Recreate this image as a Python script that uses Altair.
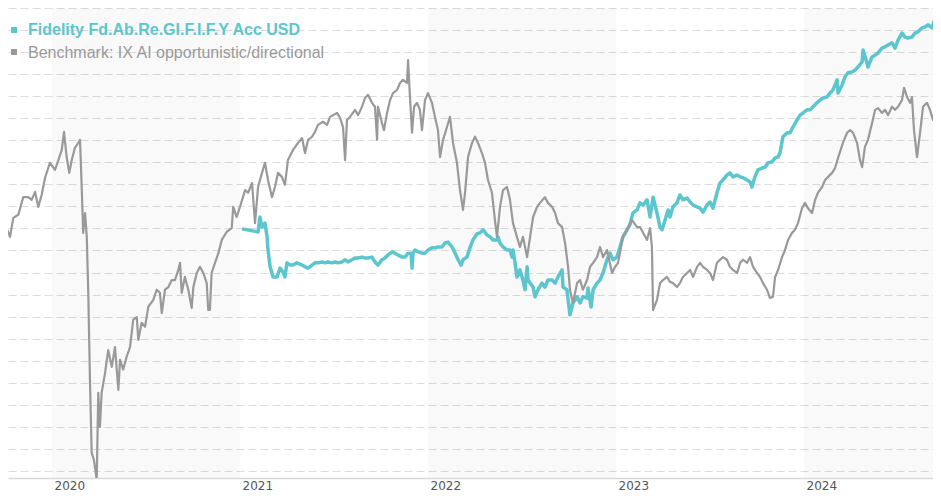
import altair as alt
import pandas as pd

# ---- data (time in fractional years, value = index) ----
benchmark_points = [
    (2019.762, 99.7), (2019.777, 98.1), (2019.794, 102.4), (2019.821, 103.1), (2019.847, 107.1),
    (2019.874, 107.1), (2019.892, 106.5), (2019.910, 108.3), (2019.927, 104.9), (2019.945, 107.6),
    (2019.963, 111.5), (2019.989, 114.9), (2020.016, 113.3), (2020.034, 115.5), (2020.052, 117.8),
    (2020.064, 121.9), (2020.078, 116.2), (2020.092, 112.6), (2020.105, 115.5), (2020.122, 118.3),
    (2020.140, 119.4), (2020.149, 120.1), (2020.158, 109.4), (2020.166, 99.0), (2020.176, 103.5),
    (2020.185, 98.1), (2020.193, 85.4), (2020.202, 65.6), (2020.211, 49.1), (2020.223, 47.5),
    (2020.238, 43.0), (2020.246, 62.7), (2020.255, 55.0), (2020.264, 62.7), (2020.282, 67.2),
    (2020.299, 72.4), (2020.318, 68.6), (2020.335, 73.1), (2020.353, 63.4), (2020.362, 70.2),
    (2020.379, 68.0), (2020.397, 70.9), (2020.415, 73.1), (2020.432, 79.3), (2020.451, 79.9),
    (2020.459, 74.7), (2020.477, 78.6), (2020.495, 77.7), (2020.512, 82.2), (2020.539, 83.8),
    (2020.557, 86.1), (2020.574, 85.4), (2020.584, 80.8), (2020.601, 86.1), (2020.619, 86.7),
    (2020.637, 88.3), (2020.654, 88.3), (2020.672, 90.6), (2020.681, 92.2), (2020.690, 85.4),
    (2020.707, 89.0), (2020.725, 86.1), (2020.743, 82.0), (2020.752, 86.7), (2020.770, 89.9),
    (2020.787, 91.3), (2020.805, 89.9), (2020.823, 87.6), (2020.831, 81.5), (2020.840, 81.5),
    (2020.849, 89.9), (2020.867, 92.2), (2020.885, 94.4), (2020.903, 97.4), (2020.929, 99.2),
    (2020.956, 100.1), (2020.964, 104.9), (2020.982, 102.6), (2021.000, 104.9), (2021.027, 108.7),
    (2021.043, 108.1), (2021.064, 110.3), (2021.080, 101.2), (2021.096, 109.4), (2021.117, 112.6),
    (2021.133, 114.9), (2021.149, 111.0), (2021.170, 107.1), (2021.186, 109.4), (2021.202, 112.6),
    (2021.223, 111.7), (2021.239, 109.9), (2021.255, 115.5), (2021.282, 117.8), (2021.309, 119.4),
    (2021.330, 120.5), (2021.346, 117.1), (2021.362, 120.1), (2021.383, 120.8), (2021.399, 121.9),
    (2021.415, 123.5), (2021.441, 124.2), (2021.463, 123.5), (2021.479, 125.3), (2021.495, 125.7),
    (2021.516, 126.2), (2021.532, 125.1), (2021.548, 123.0), (2021.559, 115.5), (2021.569, 124.6),
    (2021.585, 125.3), (2021.612, 126.9), (2021.628, 125.7), (2021.649, 127.6), (2021.665, 129.6),
    (2021.681, 130.3), (2021.702, 128.5), (2021.718, 127.6), (2021.729, 120.1), (2021.734, 127.6),
    (2021.755, 123.9), (2021.766, 122.3), (2021.782, 126.2), (2021.798, 129.1), (2021.814, 130.7),
    (2021.835, 131.4), (2021.851, 133.0), (2021.867, 133.7), (2021.888, 133.0), (2021.894, 138.2),
    (2021.904, 129.8), (2021.915, 121.7), (2021.926, 127.6), (2021.941, 128.5), (2021.957, 126.9),
    (2021.968, 122.3), (2021.984, 129.1), (2022.000, 130.7), (2022.021, 128.5), (2022.037, 125.3),
    (2022.053, 122.3), (2022.064, 116.2), (2022.080, 120.1), (2022.101, 123.0), (2022.117, 125.3),
    (2022.133, 119.4), (2022.154, 114.9), (2022.170, 108.7), (2022.186, 104.2), (2022.197, 108.1),
    (2022.213, 116.2), (2022.234, 119.4), (2022.250, 120.8), (2022.266, 119.4), (2022.287, 117.1),
    (2022.303, 114.9), (2022.319, 111.0), (2022.340, 108.1), (2022.356, 101.9), (2022.367, 98.1),
    (2022.383, 104.9), (2022.399, 108.7), (2022.420, 109.4), (2022.436, 106.5), (2022.452, 101.2),
    (2022.473, 98.1), (2022.489, 95.8), (2022.505, 98.1), (2022.527, 93.5), (2022.543, 98.1),
    (2022.559, 102.6), (2022.580, 104.9), (2022.596, 105.8), (2022.622, 107.1), (2022.638, 105.8),
    (2022.660, 104.9), (2022.676, 103.5), (2022.691, 101.2), (2022.713, 100.3), (2022.729, 96.7),
    (2022.745, 91.3), (2022.755, 86.1), (2022.771, 83.1), (2022.793, 87.6), (2022.809, 88.3),
    (2022.824, 86.1), (2022.846, 88.3), (2022.862, 91.3), (2022.878, 92.2), (2022.899, 93.5),
    (2022.915, 95.8), (2022.931, 93.5), (2022.952, 95.1), (2022.979, 89.9), (2022.995, 91.3),
    (2023.011, 92.2), (2023.037, 98.1), (2023.064, 100.3), (2023.085, 101.9), (2023.112, 100.3),
    (2023.128, 100.3), (2023.144, 99.0), (2023.165, 97.4), (2023.181, 100.1), (2023.191, 95.8),
    (2023.197, 81.5), (2023.218, 83.8), (2023.234, 87.6), (2023.250, 88.3), (2023.271, 89.0),
    (2023.287, 87.9), (2023.303, 87.6), (2023.324, 86.7), (2023.340, 87.6), (2023.356, 89.0),
    (2023.378, 89.9), (2023.394, 90.6), (2023.410, 89.0), (2023.431, 91.3), (2023.447, 92.2),
    (2023.463, 91.3), (2023.484, 90.6), (2023.500, 89.9), (2023.516, 88.3), (2023.537, 92.2),
    (2023.553, 92.9), (2023.569, 93.5), (2023.590, 92.9), (2023.606, 91.3), (2023.622, 90.6),
    (2023.644, 89.9), (2023.660, 92.2), (2023.676, 92.9), (2023.697, 92.2), (2023.713, 93.5),
    (2023.729, 91.3), (2023.750, 89.9), (2023.766, 89.0), (2023.782, 87.6), (2023.803, 86.1),
    (2023.819, 84.2), (2023.835, 84.5), (2023.846, 89.0), (2023.862, 90.6), (2023.883, 93.5),
    (2023.899, 95.1), (2023.915, 97.4), (2023.936, 99.0), (2023.952, 99.7), (2023.968, 101.2),
    (2023.989, 104.6), (2024.005, 105.8), (2024.021, 104.6), (2024.043, 103.5), (2024.059, 106.5),
    (2024.074, 108.1), (2024.096, 109.4), (2024.112, 111.0), (2024.128, 111.7), (2024.149, 112.6),
    (2024.165, 113.7), (2024.181, 116.0), (2024.207, 119.4), (2024.229, 121.7), (2024.245, 122.3),
    (2024.261, 121.7), (2024.282, 119.4), (2024.298, 115.5), (2024.309, 113.9), (2024.324, 118.5),
    (2024.340, 120.1), (2024.362, 123.9), (2024.378, 126.9), (2024.394, 127.3), (2024.415, 126.2),
    (2024.431, 126.9), (2024.447, 125.7), (2024.468, 127.6), (2024.484, 126.9), (2024.500, 127.6),
    (2024.521, 129.1), (2024.532, 131.9), (2024.548, 129.8), (2024.564, 128.5), (2024.574, 129.8),
    (2024.585, 122.3), (2024.601, 116.2), (2024.617, 121.7), (2024.633, 127.6), (2024.654, 128.5),
    (2024.670, 126.9), (2024.686, 124.6), (2024.707, 129.1), (2024.723, 134.4),
]

fund_points = [
    (2021.011, 99.9), (2021.096, 99.2), (2021.106, 102.6), (2021.117, 100.3), (2021.133, 101.2),
    (2021.144, 98.1), (2021.149, 95.1), (2021.160, 91.3), (2021.176, 89.0), (2021.197, 89.0),
    (2021.213, 91.0), (2021.229, 90.1), (2021.239, 89.0), (2021.250, 92.2), (2021.266, 91.7),
    (2021.282, 91.7), (2021.303, 92.2), (2021.330, 91.7), (2021.346, 91.3), (2021.362, 91.0),
    (2021.383, 91.7), (2021.399, 92.2), (2021.415, 92.2), (2021.436, 92.4), (2021.452, 92.2),
    (2021.468, 92.4), (2021.489, 92.2), (2021.505, 92.4), (2021.521, 92.2), (2021.543, 92.4),
    (2021.559, 92.9), (2021.574, 92.4), (2021.596, 92.9), (2021.612, 93.3), (2021.628, 93.3),
    (2021.649, 93.5), (2021.665, 93.3), (2021.681, 93.3), (2021.702, 93.5), (2021.718, 92.4),
    (2021.734, 91.7), (2021.755, 92.9), (2021.771, 93.3), (2021.787, 94.0), (2021.809, 94.7),
    (2021.824, 94.4), (2021.840, 94.0), (2021.862, 93.5), (2021.878, 93.5), (2021.894, 94.4),
    (2021.910, 94.4), (2021.915, 91.0), (2021.920, 94.4), (2021.931, 95.1), (2021.947, 94.7),
    (2021.968, 94.4), (2021.984, 94.4), (2022.000, 95.1), (2022.021, 95.6), (2022.037, 95.6),
    (2022.053, 95.8), (2022.074, 95.8), (2022.090, 96.7), (2022.106, 96.9), (2022.128, 95.8),
    (2022.144, 94.4), (2022.160, 92.9), (2022.176, 91.7), (2022.186, 92.9), (2022.207, 93.5),
    (2022.223, 95.6), (2022.239, 97.4), (2022.261, 98.8), (2022.277, 99.0), (2022.293, 99.7),
    (2022.314, 98.5), (2022.330, 98.1), (2022.346, 97.4), (2022.367, 97.4), (2022.372, 98.1),
    (2022.383, 96.7), (2022.399, 95.8), (2022.420, 95.1), (2022.436, 95.1), (2022.447, 93.5),
    (2022.452, 95.1), (2022.463, 92.2), (2022.473, 89.0), (2022.489, 90.6), (2022.505, 88.3),
    (2022.516, 86.1), (2022.527, 91.3), (2022.532, 88.3), (2022.543, 87.6), (2022.559, 86.7),
    (2022.569, 84.5), (2022.585, 86.1), (2022.606, 87.6), (2022.622, 86.7), (2022.638, 88.3),
    (2022.660, 88.3), (2022.676, 87.6), (2022.691, 89.0), (2022.713, 90.6), (2022.718, 86.7),
    (2022.739, 86.1), (2022.755, 80.4), (2022.771, 83.1), (2022.793, 84.5), (2022.809, 83.1),
    (2022.824, 84.5), (2022.846, 84.2), (2022.851, 86.5), (2022.867, 82.2), (2022.878, 86.1),
    (2022.899, 87.6), (2022.915, 88.3), (2022.931, 89.9), (2022.952, 92.9), (2022.968, 94.4),
    (2022.984, 92.9), (2023.005, 93.5), (2023.021, 95.8), (2023.037, 98.1), (2023.059, 99.7),
    (2023.074, 100.8), (2023.090, 103.5), (2023.112, 104.2), (2023.128, 105.8), (2023.144, 105.3),
    (2023.165, 106.5), (2023.181, 102.6), (2023.197, 107.1), (2023.218, 103.5), (2023.234, 100.3),
    (2023.245, 99.7), (2023.261, 101.9), (2023.277, 104.2), (2023.287, 102.6), (2023.303, 104.9),
    (2023.324, 105.8), (2023.340, 107.6), (2023.356, 106.5), (2023.378, 106.9), (2023.394, 106.0),
    (2023.410, 105.3), (2023.431, 104.9), (2023.447, 104.6), (2023.463, 103.7), (2023.484, 105.3),
    (2023.500, 106.0), (2023.516, 104.6), (2023.537, 108.1), (2023.553, 110.3), (2023.569, 111.0),
    (2023.590, 112.1), (2023.606, 112.6), (2023.622, 111.7), (2023.644, 112.1), (2023.660, 111.7),
    (2023.676, 111.5), (2023.697, 111.0), (2023.713, 110.5), (2023.723, 109.4), (2023.739, 111.7),
    (2023.755, 113.3), (2023.777, 113.7), (2023.793, 113.9), (2023.809, 114.9), (2023.830, 115.1),
    (2023.846, 116.0), (2023.862, 116.2), (2023.872, 117.1), (2023.888, 120.8), (2023.910, 121.7),
    (2023.926, 121.7), (2023.941, 123.0), (2023.963, 124.6), (2023.979, 125.7), (2023.995, 126.2),
    (2024.016, 126.9), (2024.032, 126.9), (2024.048, 127.6), (2024.069, 128.5), (2024.085, 129.1),
    (2024.101, 129.6), (2024.122, 129.8), (2024.138, 130.7), (2024.154, 131.4), (2024.176, 133.7),
    (2024.181, 130.7), (2024.202, 132.5), (2024.218, 134.4), (2024.234, 135.3), (2024.255, 135.5),
    (2024.271, 135.9), (2024.287, 136.6), (2024.309, 137.8), (2024.314, 140.5), (2024.335, 137.5),
    (2024.340, 136.6), (2024.362, 138.9), (2024.378, 139.3), (2024.394, 139.8), (2024.415, 140.9),
    (2024.431, 141.2), (2024.447, 141.6), (2024.468, 142.1), (2024.484, 140.9), (2024.500, 142.7),
    (2024.521, 144.3), (2024.537, 143.4), (2024.553, 143.2), (2024.574, 143.4), (2024.590, 144.3),
    (2024.606, 144.6), (2024.628, 145.5), (2024.644, 145.7), (2024.660, 146.2), (2024.681, 145.5),
    (2024.697, 147.7), (2024.713, 148.4),
]

band_start = [2020, 2022, 2024]
band_end = [2021, 2023, 2025]
year_ticks = [2020, 2021, 2022, 2023, 2024]
grid_values = list(range(45, 151, 5))
series_names = ["Fidelity Fd.Ab.Re.Gl.F.I.F.Y Acc USD",
                "Benchmark: IX AI opportunistic/directional"]

# 188 px per year; the page (941 px minus 8 px margins) shows 925 px of plot
X_DOMAIN = [2019.766, 2024.686]
Y_DOMAIN = [43.4, 150]
W, H = 925, 470
CYAN = "#5bc6cd"
GREY = "#999999"
FONT = "Liberation Sans, Arial, Helvetica, sans-serif"

bench_df = pd.DataFrame(benchmark_points, columns=["t", "v"])
fund_df = pd.DataFrame(fund_points, columns=["t", "v"])
band_df = pd.DataFrame({"s": band_start, "e": band_end})

xscale = alt.Scale(domain=X_DOMAIN, nice=False, zero=False)
yscale = alt.Scale(domain=Y_DOMAIN, nice=False, zero=False)

x_axis = alt.Axis(values=year_ticks, format="d", title=None, grid=False,
                  ticks=False, tickSize=0, labelAlign="left", labelOffset=2,
                  labelPadding=2, labelFont="DejaVu Sans", labelFontSize=12,
                  labelColor="#555555", domainColor="#d9d9d9", domainWidth=1.5,
                  labelFlush=False, labelOverlap=False)
y_axis = alt.Axis(values=grid_values, title=None, labels=False, ticks=False,
                  domain=False, grid=True, gridColor="#dcdcdc", gridDash=[8, 4],
                  gridWidth=1)

bands = alt.Chart(band_df).mark_rect(color="#000000", opacity=0.025, clip=True).encode(
    x=alt.X("s:Q", scale=xscale, axis=x_axis),
    x2="e:Q",
    y=alt.value(0),
    y2=alt.value(H),
)

fund_line = alt.Chart(fund_df).mark_line(color=CYAN, strokeWidth=3.5, clip=True,
                                         strokeJoin="round").encode(
    x=alt.X("t:Q", scale=xscale, axis=x_axis),
    y=alt.Y("v:Q", scale=yscale, axis=y_axis),
    order="t:Q",
)

bench_line = alt.Chart(bench_df).mark_line(color=GREY, strokeWidth=2.2, clip=True,
                                           strokeJoin="round").encode(
    x=alt.X("t:Q", scale=xscale, axis=x_axis),
    y=alt.Y("v:Q", scale=yscale, axis=y_axis),
    order="t:Q",
)

one = pd.DataFrame({"k": [0]})
leg_sq1 = alt.Chart(one).mark_square(size=36, color=CYAN, opacity=1).encode(
    x=alt.value(6), y=alt.value(22))
leg_tx1 = alt.Chart(one).mark_text(text=series_names[0], align="left", baseline="alphabetic",
                                   font=FONT, fontSize=16, fontWeight="bold", color=CYAN).encode(
    x=alt.value(20), y=alt.value(27))
leg_sq2 = alt.Chart(one).mark_square(size=36, color=GREY, opacity=1).encode(
    x=alt.value(6), y=alt.value(44))
leg_tx2 = alt.Chart(one).mark_text(text=series_names[1], align="left", baseline="alphabetic",
                                   font=FONT, fontSize=16, color=GREY).encode(
    x=alt.value(20), y=alt.value(50))

chart = alt.layer(
    bands, fund_line, bench_line, leg_sq1, leg_tx1, leg_sq2, leg_tx2
).properties(
    width=W, height=H, padding=0, background="white"
).configure_view(stroke=None)

chart.save("out.html", embed_options={"renderer": "svg", "actions": False})
